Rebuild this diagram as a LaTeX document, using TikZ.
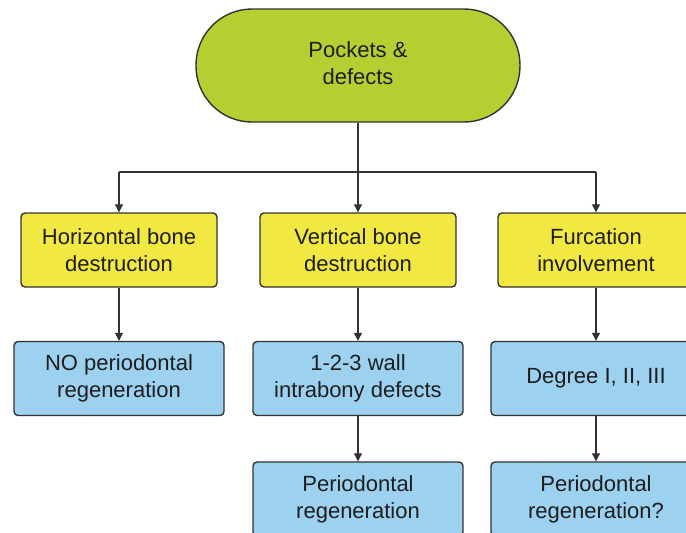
\documentclass[tikz,border=0pt]{standalone}
\usepackage{fontspec}
\setmainfont{Liberation Sans}
\usetikzlibrary{arrows.meta}
\definecolor{pgreen}{RGB}{181,207,51}
\definecolor{pyellow}{RGB}{242,232,66}
\definecolor{pblue}{RGB}{157,209,240}
\definecolor{pline}{RGB}{50,50,50}
\definecolor{ptext}{RGB}{30,30,30}
\begin{document}
\begin{tikzpicture}[x=1pt,y=-1pt,
  box/.style={draw=pline,line width=1.4pt,rounded corners=4pt,align=center,
    text=ptext,font=\fontsize{22}{27}\selectfont,inner sep=0pt},
  topbox/.style={box,fill=pgreen,minimum width=324pt,minimum height=113pt,rounded corners=56pt},
  ybox/.style={box,fill=pyellow,minimum width=196pt,minimum height=74pt},
  bbox/.style={box,fill=pblue,minimum width=210pt,minimum height=74pt},
  conn/.style={draw=pline,line width=1.2pt},
  arr/.style={conn,-{Triangle[length=8pt,width=8pt]}}]
\useasboundingbox (0,0) rectangle (686,533);
\node[topbox] (top) at (358,65.5) {\raisebox{2pt}{\begin{tabular}{@{}c@{}}Pockets \&\\defects\end{tabular}}};
\node[ybox] (y1) at (119,250) {Horizontal bone\\destruction};
\node[ybox] (y2) at (358,250) {Vertical bone\\destruction};
\node[ybox] (y3) at (596,250) {Furcation\\involvement};
\node[bbox] (b1) at (119,378.5) {NO periodontal\\regeneration};
\node[bbox] (b2) at (358,378.5) {1-2-3 wall\\intrabony defects};
\node[bbox] (b3) at (596,378.5) {Degree I, II, III};
\node[bbox] (c2) at (358,499) {Periodontal\\regeneration};
\node[bbox] (c3) at (596,499) {Periodontal\\regeneration?};
\coordinate (jm) at (358,172);
\coordinate (jl) at (119,172);
\coordinate (jr) at (596,172);
\draw[conn] (top.south) -- (jm);
\draw[conn] (jl) -- (jr);
\draw[arr] (jl) -- (y1.north);
\draw[arr] (jm) -- (y2.north);
\draw[arr] (jr) -- (y3.north);
\draw[arr] (y1.south) -- (b1.north);
\draw[arr] (y2.south) -- (b2.north);
\draw[arr] (y3.south) -- (b3.north);
\draw[arr] (b2.south) -- (c2.north);
\draw[arr] (b3.south) -- (c3.north);
\end{tikzpicture}
\end{document}
